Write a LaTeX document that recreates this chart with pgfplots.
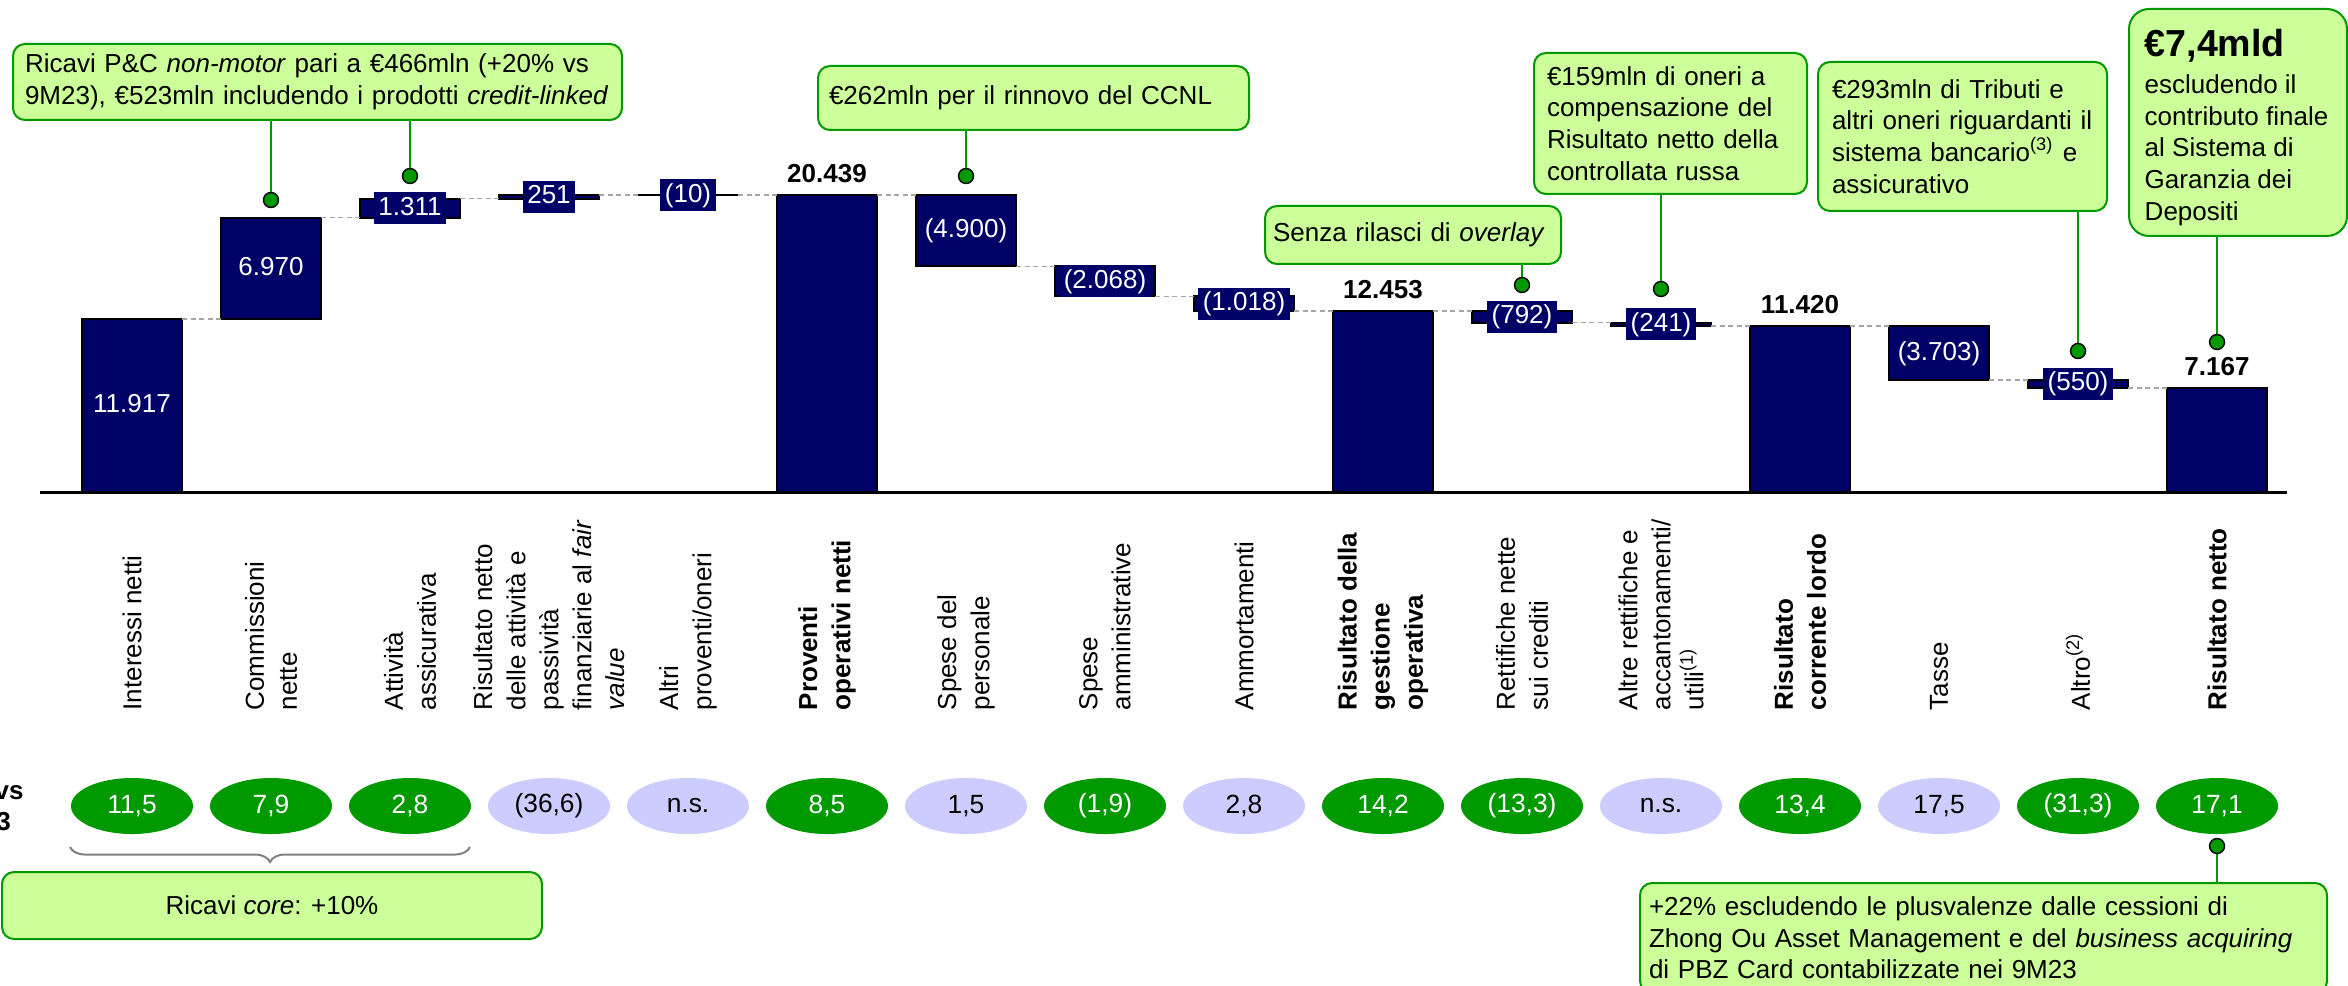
\documentclass[border=0pt]{standalone}
\usepackage{fontspec}
\setmainfont{Liberation Sans}
\usepackage{pgfplots}
\pgfplotsset{compat=1.18}
\usepackage{pgfplotstable}
\usetikzlibrary{shapes.geometric,decorations.pathreplacing}
\definecolor{navy}{HTML}{000066}
\definecolor{cgreen}{HTML}{009900}
\definecolor{cfill}{HTML}{CCFF99}
\definecolor{lav}{HTML}{CCCCFF}
\definecolor{dgray}{HTML}{A6A6A6}
\newcommand\PXx[1]{((#1-132)/139)}
\newcommand\PXy[1]{((492-#1)*68.85)}
\newcommand\fs{\fontsize{7.4}{9}\selectfont}

\pgfplotstableread{
x base delta
0 0 11917
1 11917 6970
2 18887 1311
3 20198 251
4 20439 10
5 0 20439
6 15539 4900
7 13471 2068
8 12453 1018
9 0 12453
10 11661 792
11 11420 241
12 0 11420
13 7717 3703
14 7167 550
15 0 7167
}\bars

\pgfplotstableread{
x y lab
0 5958 11.917
1 15402 6.970
2 19543 1.311
3 20324 251
4 20444 (10)
6 17989 (4.900)
7 14505 (2.068)
8 12962 (1.018)
10 12057 (792)
11 11541 (241)
13 9569 (3.703)
14 7442 (550)
}\inlabs

\pgfplotstableread{
x y lab
5 21289 20.439
9 13303 12.453
12 12270 11.420
15 8017 7.167
}\tots

\pgfplotstableread{
x y lab
0 -21619 11,5
1 -21619 7,9
2 -21619 2,8
5 -21619 8,5
7 -21619 (1,9)
9 -21619 14,2
10 -21619 (13,3)
12 -21619 13,4
14 -21619 (31,3)
15 -21619 17,1
}\greenell

\pgfplotstableread{
x y lab
3 -21619 (36,6)
4 -21619 n.s.
6 -21619 1,5
8 -21619 2,8
11 -21619 n.s.
13 -21619 17,5
}\lavell

\tikzset{
  callout/.style={draw=cgreen, fill=cfill, line width=0.2mm, rounded corners=1.2mm,
    align=left, anchor=north west, inner xsep=1.2mm, inner ysep=0pt, font=\fs},
  catlab/.style={rotate=90, anchor=west, align=left, inner sep=0pt,
    font=\fontsize{7.4}{9.4}\selectfont},
  catlabb/.style={catlab, font=\fontsize{7.4}{9.4}\selectfont\bfseries},
}

\begin{document}
\begin{tikzpicture}
\begin{axis}[
  width=234.8mm, height=98.5mm, scale only axis,
  xmin=-0.94964, xmax=15.94245, ymin=-33943, ymax=33874,
  hide axis, clip=false,
]
\coordinate (SW) at (rel axis cs:0,0);
\coordinate (NE) at (rel axis cs:1,1);

% waterfall bars
\addplot[ybar stacked, bar shift=0pt, bar width=10mm, draw=none, fill=none]
  table[x=x, y=base] {\bars};
\addplot[ybar stacked, bar shift=0pt, bar width=10mm, fill=navy, draw=black, line width=0.2mm]
  table[x=x, y=delta] {\bars};

% connectors
\addplot[stack plots=false, dgray, line width=0.15mm, dash pattern=on 0.5mm off 0.35mm, unbounded coords=jump]
coordinates {
(0.36,11917) (0.64,11917) (0.5,nan)
(1.36,18887) (1.64,18887) (1.5,nan)
(2.36,20198) (2.64,20198) (2.5,nan)
(3.36,20449) (3.64,20449) (3.5,nan)
(4.36,20439) (4.64,20439) (4.5,nan)
(5.36,20439) (5.64,20439) (5.5,nan)
(6.36,15539) (6.64,15539) (6.5,nan)
(7.36,13471) (7.64,13471) (7.5,nan)
(8.36,12453) (8.64,12453) (8.5,nan)
(9.36,12453) (9.64,12453) (9.5,nan)
(10.36,11661) (10.64,11661) (10.5,nan)
(11.36,11420) (11.64,11420) (11.5,nan)
(12.36,11420) (12.64,11420) (12.5,nan)
(13.36,7717) (13.64,7717) (13.5,nan)
(14.36,7167) (14.64,7167)
};

% baseline
\addplot[stack plots=false, black, line width=0.3mm] coordinates {(-0.662,0) (15.504,0)};

% value labels inside / on bars
\addplot[stack plots=false, draw=none, nodes near coords, point meta=explicit symbolic,
  every node near coord/.style={anchor=center, fill=navy, text=white, inner xsep=0.45mm,
    inner ysep=0pt, minimum height=3.2mm, text height=1.9mm, text depth=0.5mm, font=\fs}]
  table[x=x, y=y, meta=lab] {\inlabs};

% totals
\addplot[stack plots=false, draw=none, nodes near coords, point meta=explicit symbolic,
  every node near coord/.style={anchor=base, inner sep=0pt, font=\fs\bfseries}]
  table[x=x, y=y, meta=lab] {\tots};

% variation ellipses
\addplot[stack plots=false, draw=none, nodes near coords, point meta=explicit symbolic,
  every node near coord/.style={ellipse, anchor=center, fill=cgreen, text=white, inner sep=0pt,
    minimum width=12.2mm, minimum height=5.6mm, font=\fontsize{7.5}{9}\selectfont}]
  table[x=x, y=y, meta=lab] {\greenell};
\addplot[stack plots=false, draw=none, nodes near coords, point meta=explicit symbolic,
  every node near coord/.style={ellipse, anchor=center, fill=lav, text=black, inner sep=0pt,
    minimum width=12.2mm, minimum height=5.6mm, font=\fontsize{7.5}{9}\selectfont}]
  table[x=x, y=y, meta=lab] {\lavell};

% leaders and dots
\addplot[stack plots=false, cgreen, line width=0.2mm, unbounded coords=jump] coordinates {
(1,25681) (1,20104) (1,nan)
(2,25681) (2,21757) (2,nan)
(6,24993) (6,21757) (6,nan)
(10,15767) (10,14252) (10,nan)
(11,20586) (11,13977) (11,nan)
(14,19416) (14,9708) (14,nan)
(15,17694) (15,10328) (15,nan)
(15,-24373) (15,-26852)
};
\addplot[stack plots=false, only marks, mark=*, mark size=0.75mm, mark options={fill=cgreen, draw=none}]
coordinates {(1,20104) (2,21757) (6,21757) (10,14252) (11,13977) (14,9708) (15,10328) (15,-24373)};

% category labels
\node[catlab]  at (axis cs:0,{\PXy{711}}) {Interessi netti};
\node[catlab]  at (axis cs:1,{\PXy{711}}) {Commissioni\\nette};
\node[catlab]  at (axis cs:2,{\PXy{711}}) {Attività\\assicurativa};
\node[catlab]  at (axis cs:3,{\PXy{711}}) {Risultato netto\\delle attività e\\passività\\finanziarie al \textit{fair}\\\textit{value}};
\node[catlab]  at (axis cs:4,{\PXy{711}}) {Altri\\proventi/oneri};
\node[catlabb] at (axis cs:5,{\PXy{711}}) {Proventi\\operativi netti};
\node[catlab]  at (axis cs:6,{\PXy{711}}) {Spese del\\personale};
\node[catlab]  at (axis cs:7,{\PXy{711}}) {Spese\\amministrative};
\node[catlab]  at (axis cs:8,{\PXy{711}}) {Ammortamenti};
\node[catlabb] at (axis cs:9,{\PXy{711}}) {Risultato della\\gestione\\operativa};
\node[catlab]  at (axis cs:10,{\PXy{711}}) {Rettifiche nette\\sui crediti};
\node[catlab]  at (axis cs:11,{\PXy{711}}) {Altre rettifiche e\\accantonamenti/\\utili\textsuperscript{(1)}};
\node[catlabb] at (axis cs:12,{\PXy{711}}) {Risultato\\corrente lordo};
\node[catlab]  at (axis cs:13,{\PXy{711}}) {Tasse};
\node[catlab]  at (axis cs:14,{\PXy{711}}) {Altro\textsuperscript{(2)}};
\node[catlabb] at (axis cs:15,{\PXy{711}}) {Risultato netto};

% row title (cut at the left edge, as in the original)
\node[anchor=base west, inner sep=0pt, font=\fs\bfseries] at (axis cs:{\PXx{-55}},{\PXy{799}}) {Δ\% vs};
\node[anchor=base west, inner sep=0pt, font=\fs\bfseries] at (axis cs:{\PXx{-55}},{\PXy{830}}) {9M23};

% brace and core box
\draw[decorate, decoration={brace, mirror, amplitude=1.5mm}, gray, line width=0.2mm]
  (axis cs:{\PXx{70}},{\PXy{847}}) -- (axis cs:{\PXx{470}},{\PXy{847}});
\node[callout, align=center, minimum width=54mm, minimum height=6.7mm]
  at (axis cs:{\PXx{1}},{\PXy{871}}) {Ricavi \textit{core}: +10\%};

% callouts
\node[callout, text width=58.5mm, minimum height=7.6mm]
  at (axis cs:{\PXx{12}},{\PXy{43}}) {Ricavi P\&C \textit{non-motor} pari a €466mln (+20\% vs\\9M23), €523mln includendo i prodotti \textit{credit-linked}};
\node[callout, text width=40.9mm, inner xsep=1.1mm, minimum height=6.4mm]
  at (axis cs:{\PXx{817}},{\PXy{65}}) {€262mln per il rinnovo del CCNL};
\node[callout, text width=28mm, inner xsep=0.8mm, minimum height=5.8mm]
  at (axis cs:{\PXx{1264}},{\PXy{205}}) {\mbox{Senza rilasci di \textit{overlay}}};
\node[callout, text width=24.7mm, inner xsep=1.3mm, minimum height=14.1mm]
  at (axis cs:{\PXx{1533}},{\PXy{52}}) {€159mln di oneri a\\compensazione del\\Risultato netto della\\controllata russa};
\node[callout, text width=26.1mm, inner xsep=1.4mm, minimum height=14.9mm]
  at (axis cs:{\PXx{1817}},{\PXy{61}}) {€293mln di Tributi e\\altri oneri riguardanti il\\sistema bancario\textsuperscript{(3)} e\\assicurativo};
\node[callout, minimum width=21.8mm, minimum height=22.7mm, rounded corners=2mm]
  at (axis cs:{\PXx{2128}},{\PXy{8}}) {};
\node[anchor=base west, inner sep=0pt, font=\fontsize{10.7}{12}\selectfont\bfseries]
  at (axis cs:{\PXx{2144}},{\PXy{57}}) {€7,4mld};
\node[anchor=north west, inner sep=0pt, align=left, font=\fs]
  at (axis cs:{\PXx{2144}},{\PXy{74}}) {escludendo il\\contributo finale\\al Sistema di\\Garanzia dei\\Depositi};
\node[callout, text width=66.9mm, inner xsep=0.9mm, minimum height=11mm]
  at (axis cs:{\PXx{1639}},{\PXy{882}}) {+22\% escludendo le plusvalenze dalle cessioni di\\Zhong Ou Asset Management e del \textit{business acquiring}\\di PBZ Card contabilizzate nei 9M23};
\end{axis}
\pgfresetboundingbox
\path[use as bounding box] (SW) rectangle (NE);
\end{tikzpicture}
\end{document}
